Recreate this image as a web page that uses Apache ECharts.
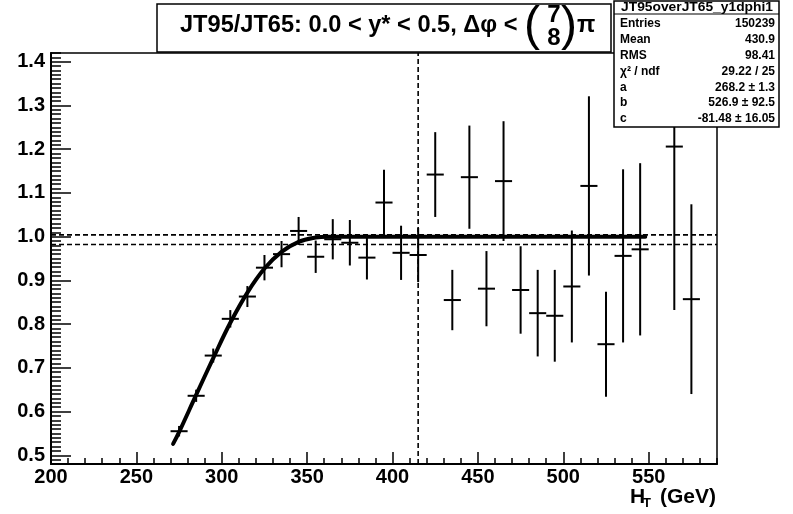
<!DOCTYPE html>
<html>
<head>
<meta charset="utf-8">
<script src="https://cdn.jsdelivr.net/npm/echarts@6/dist/echarts.min.js"></script>
<style>
  html, body { margin: 0; padding: 0; background: #fff; }
  #chart { width: 793px; height: 514px; }
</style>
</head>
<body>
<div id="chart"></div>
<script>
// Trigger efficiency ratio JT95/JT65 versus H_T, bins of 10 GeV
const htBins = [275, 285, 295, 305, 315, 325, 335, 345, 355, 365, 375, 385, 395, 405, 415,
                425, 435, 445, 455, 465, 475, 485, 495, 505, 515, 525, 535, 545, 565, 575];
const ratio = [0.555, 0.636, 0.728, 0.812, 0.863, 0.929, 0.960, 1.013, 0.954, 0.994, 0.986, 0.952, 1.078, 0.963, 0.958,
               1.142, 0.855, 1.136, 0.881, 1.127, 0.878, 0.825, 0.819, 0.886, 1.116, 0.754, 0.956, 0.971, 1.206, 0.857];
const ratioErr = [0.012, 0.014, 0.016, 0.020, 0.024, 0.029, 0.030, 0.032, 0.037, 0.046, 0.052, 0.050, 0.075, 0.062, 0.062,
                  0.097, 0.069, 0.118, 0.086, 0.137, 0.100, 0.099, 0.105, 0.128, 0.205, 0.120, 0.198, 0.197, 0.374, 0.217];
const binHalfWidth = 5;

// Fitted turn-on curve, sampled along H_T
const fitHt  = [271.5, 275, 285, 295, 305, 315, 325, 335, 345, 355, 362, 548];
const fitVal = [0.526, 0.553, 0.638, 0.722, 0.803, 0.872, 0.927, 0.965, 0.988, 0.998, 1.0, 1.0];

// Reference lines
const plateauUpper = 1.004;
const plateauLower = 0.982;
const turnOnHt = 415;

// Axis ranges
const xRange = [200, 590];
const yRange = [0.48, 1.42];

// Statistics box
const statsTitle = 'JT95overJT65_y1dphi1';
const statNames  = ['Entries', 'Mean', 'RMS', 'χ² / ndf', 'a', 'b', 'c'];
const statValues = ['150239', '430.9', '98.41', '29.22 / 25', '268.2 ± 1.3', '526.9 ± 92.5', '-81.48 ± 16.05'];

const FONT = '"Liberation Sans", Arial, Helvetica, sans-serif';
const chart = echarts.init(document.getElementById('chart'), null, { renderer: 'canvas' });

const labelStyle = { color: '#000', fontSize: 20, fontWeight: 'bold', fontFamily: FONT };

const statsGraphics = [];
statNames.forEach((name, i) => {
  const y = 24 + i * 15.8;
  statsGraphics.push({
    type: 'text', z: 101,
    style: { text: name, x: 620, y: y, font: 'bold 12px ' + FONT, fill: '#000', align: 'left', verticalAlign: 'middle' }
  });
  statsGraphics.push({
    type: 'text', z: 101,
    style: { text: statValues[i], x: 775, y: y, font: 'bold 12px ' + FONT, fill: '#000', align: 'right', verticalAlign: 'middle' }
  });
});

const option = {
  animation: false,
  backgroundColor: '#fff',
  grid: { left: 51, right: 76, top: 53, bottom: 50, show: true, borderColor: '#000', borderWidth: 1.5, backgroundColor: 'transparent' },
  xAxis: [
    {
      type: 'value', min: xRange[0], max: xRange[1], interval: 50, position: 'bottom',
      axisLine: { show: true, lineStyle: { color: '#000', width: 2 } },
      axisTick: { show: true, inside: true, length: 12, lineStyle: { color: '#000', width: 1.5 } },
      axisLabel: Object.assign({ margin: 3, showMaxLabel: false }, labelStyle),
      splitLine: { show: false }
    },
    {
      type: 'value', min: xRange[0], max: xRange[1], interval: 10, position: 'bottom',
      axisLine: { show: false },
      axisTick: { show: true, inside: true, length: 6, lineStyle: { color: '#000', width: 1.5 } },
      axisLabel: { show: false },
      splitLine: { show: false }
    }
  ],
  yAxis: [
    {
      type: 'value', min: yRange[0], max: yRange[1], splitNumber: 10, position: 'left',
      axisLine: { show: true, lineStyle: { color: '#000', width: 2 } },
      axisTick: { show: true, inside: true, length: 20, lineStyle: { color: '#000', width: 1.5 } },
      axisLabel: Object.assign({ margin: 6, showMinLabel: false, showMaxLabel: false,
        formatter: v => v.toFixed(1) }, labelStyle),
      splitLine: { show: false }
    },
    {
      type: 'value', min: yRange[0], max: yRange[1], interval: 0.01, position: 'left',
      axisLine: { show: false },
      axisTick: { show: true, inside: true, length: 10, lineStyle: { color: '#000', width: 1.5 } },
      axisLabel: { show: false },
      splitLine: { show: false }
    }
  ],
  series: [
    {
      type: 'line', xAxisIndex: 0, yAxisIndex: 0, symbol: 'none', z: 1, silent: true,
      lineStyle: { color: '#000', width: 1.6, type: [5, 3] },
      data: [[xRange[0], plateauUpper], [xRange[1], plateauUpper]]
    },
    {
      type: 'line', xAxisIndex: 0, yAxisIndex: 0, symbol: 'none', z: 1, silent: true,
      lineStyle: { color: '#000', width: 1.6, type: [5, 3] },
      data: [[xRange[0], plateauLower], [xRange[1], plateauLower]]
    },
    {
      type: 'line', xAxisIndex: 0, yAxisIndex: 0, symbol: 'none', z: 1, silent: true,
      lineStyle: { color: '#000', width: 1.6, type: [5, 3] },
      data: [[turnOnHt, yRange[0]], [turnOnHt, yRange[1]]]
    },
    {
      type: 'line', xAxisIndex: 0, yAxisIndex: 0, symbol: 'none', z: 3, silent: true,
      smooth: 0.4,
      lineStyle: { color: '#000', width: 4, join: 'round', cap: 'round' },
      data: fitHt.map((h, i) => [h, fitVal[i]])
    },
    {
      type: 'custom', xAxisIndex: 0, yAxisIndex: 0, z: 4, silent: true,
      encode: { x: 0, y: 1 },
      data: htBins.map((h, i) => [h, ratio[i], ratioErr[i]]),
      renderItem: function (params, api) {
        const x = api.value(0), y = api.value(1), e = api.value(2);
        const cs = params.coordSys;
        const clampY = p => Math.max(cs.y, Math.min(cs.y + cs.height, p));
        const c = api.coord([x, y]);
        const top = api.coord([x, y + e]);
        const bot = api.coord([x, y - e]);
        const left = api.coord([x - binHalfWidth, y]);
        const right = api.coord([x + binHalfWidth, y]);
        const st = { stroke: '#000', lineWidth: 2 };
        return {
          type: 'group',
          children: [
            { type: 'line', shape: { x1: c[0], y1: clampY(top[1]), x2: c[0], y2: clampY(bot[1]) }, style: st },
            { type: 'line', shape: { x1: left[0], y1: c[1], x2: right[0], y2: c[1] }, style: st }
          ]
        };
      }
    }
  ],
  graphic: [
    // Title pave
    { type: 'rect', z: 100, shape: { x: 157, y: 4, width: 454, height: 48 },
      style: { fill: '#fff', stroke: '#000', lineWidth: 1.5 } },
    { type: 'text', z: 101,
      style: { text: 'JT95/JT65: 0.0 < y* < 0.5, Δφ <', x: 180, y: 25, font: 'bold 23.6px ' + FONT,
               fill: '#000', align: 'left', verticalAlign: 'middle' } },
    { type: 'text', z: 101,
      style: { text: '(', x: 532, y: 27, font: '48px ' + FONT, fill: '#000', align: 'center', verticalAlign: 'middle' } },
    { type: 'text', z: 101,
      style: { text: '7', x: 554, y: 15, font: 'bold 24px ' + FONT, fill: '#000', align: 'center', verticalAlign: 'middle' } },
    { type: 'text', z: 101,
      style: { text: '8', x: 554, y: 38, font: 'bold 24px ' + FONT, fill: '#000', align: 'center', verticalAlign: 'middle' } },
    { type: 'text', z: 101,
      style: { text: ')', x: 569, y: 27, font: '48px ' + FONT, fill: '#000', align: 'center', verticalAlign: 'middle' } },
    { type: 'text', z: 101,
      style: { text: 'π', x: 577, y: 25, font: 'bold 24px ' + FONT, fill: '#000', align: 'left', verticalAlign: 'middle' } },

    // Statistics box
    { type: 'rect', z: 100, shape: { x: 614, y: 1, width: 165, height: 126 },
      style: { fill: '#fff', stroke: '#000', lineWidth: 1.5 } },
    { type: 'line', z: 101, shape: { x1: 614, y1: 14, x2: 779, y2: 14 },
      style: { stroke: '#000', lineWidth: 1.2 } },
    { type: 'text', z: 101, x: 697, y: 7.5, scaleX: 1.15,
      style: { text: statsTitle, x: 0, y: 0, font: 'bold 12px ' + FONT, fill: '#000', align: 'center', verticalAlign: 'middle' } },
    ...statsGraphics,

    // X axis title
    { type: 'text', z: 101,
      style: { text: 'H', x: 630, y: 497, font: 'bold 21px ' + FONT, fill: '#000', align: 'left', verticalAlign: 'middle' } },
    { type: 'text', z: 101,
      style: { text: 'T', x: 643, y: 503, font: 'bold 13px ' + FONT, fill: '#000', align: 'left', verticalAlign: 'middle' } },
    { type: 'text', z: 101,
      style: { text: '(GeV)', x: 716, y: 497, font: 'bold 21px ' + FONT, fill: '#000', align: 'right', verticalAlign: 'middle' } }
  ]
};

chart.setOption(option);
</script>
</body>
</html>
